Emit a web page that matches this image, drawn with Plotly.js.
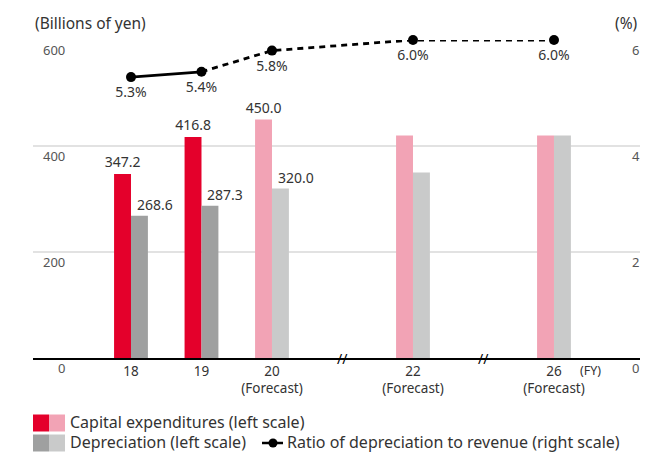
<!DOCTYPE html>
<html>
<head>
<meta charset="utf-8">
<script src="https://cdn.plot.ly/plotly-3.0.1.min.js"></script>
<style>html,body{margin:0;padding:0;background:#fff;}#chart{width:669px;height:453px;}</style>
</head>
<body>
<div id="chart"></div>
<script>
// ---- data ----
const slots = ['18', '19', '20', 'gapA', '22', 'gapB', '26'];
const years = ['18', '19', '20', '22', '26'];
const tickText = ['18', '19', '20<br>(Forecast)', '22<br>(Forecast)', '26<br>(Forecast)'];
const isForecast = [false, false, true, true, true];
const capex = [347.2, 416.8, 450.0, 420, 420];
const capexLabels = ['347.2', '416.8', '450.0', '', ''];
const depreciation = [268.6, 287.3, 320.0, 350, 420];
const depLabels = ['268.6', '287.3', '320.0', '', ''];
const ratio = [5.3, 5.4, 5.8, 6.0, 6.0];
const ratioLabels = ['5.3%', '5.4%', '5.8%', '6.0%', '6.0%'];
const breaks = ['gapA', 'gapB'];
const leftTicks = [0, 200, 400, 600];
const rightTicks = [0, 2, 4, 6];

// ---- styling ----
const RED = '#e4002b', PINK = '#f2a3b5', DGRAY = '#9fa0a0', LGRAY = '#c9caca';
const TXT = '#333333';
const FONT = 'Noto Sans, sans-serif';

const capexColors = isForecast.map(f => f ? PINK : RED);
const depColors = isForecast.map(f => f ? LGRAY : DGRAY);

const traces = [
  {type: 'bar', x: years, y: capex, marker: {color: capexColors}, text: capexLabels,
   textposition: 'outside', constraintext: 'none', textfont: {size: 14, color: TXT, family: FONT}, cliponaxis: false,
   hoverinfo: 'skip', showlegend: false},
  {type: 'bar', x: years, y: depreciation, marker: {color: depColors},
   cliponaxis: false, hoverinfo: 'skip', showlegend: false},
  {type: 'scatter', mode: 'lines', x: years.slice(0, 2), y: ratio.slice(0, 2), yaxis: 'y2',
   line: {color: '#000', width: 2.8}, cliponaxis: false, showlegend: false, hoverinfo: 'skip'},
  {type: 'scatter', mode: 'lines', x: years.slice(1), y: ratio.slice(1), yaxis: 'y2',
   line: {color: '#000', width: 2.8, dash: '6px,5px'}, cliponaxis: false, showlegend: false, hoverinfo: 'skip'},
  {type: 'scatter', mode: 'markers', x: years, y: ratio, yaxis: 'y2',
   marker: {color: '#000', size: 10}, cliponaxis: false, showlegend: false, hoverinfo: 'skip'},
  {type: 'scatter', mode: 'markers+text', x: years, y: ratio, yaxis: 'y2',
   marker: {color: 'rgba(0,0,0,0)', size: 14}, text: ratioLabels, textposition: 'bottom center',
   textfont: {size: 14, color: TXT, family: FONT}, cliponaxis: false, showlegend: false, hoverinfo: 'skip'}
];

const annotations = [];
// depreciation value labels (sit to the right of the bar top in the reference)
years.forEach((yr, i) => {
  if (depLabels[i]) annotations.push({xref: 'x', yref: 'y', x: slots.indexOf(yr), y: depreciation[i], text: depLabels[i],
    showarrow: false, xanchor: 'center', yanchor: 'middle', xshift: 24, yshift: 11,
    font: {size: 14, color: TXT, family: FONT}});
});
leftTicks.forEach(v => annotations.push({xref: 'paper', yref: 'y', x: 0.056, y: v, text: String(v),
  showarrow: false, xanchor: 'right', yanchor: 'middle', yshift: -10, font: {size: 13, color: '#555', family: FONT}}));
rightTicks.forEach(v => annotations.push({xref: 'paper', yref: 'y2', x: 0.983, y: v, text: String(v),
  showarrow: false, xanchor: 'left', yanchor: 'middle', yshift: -10, font: {size: 13, color: '#555', family: FONT}}));
breaks.forEach(b => annotations.push({xref: 'x', yref: 'y', x: slots.indexOf(b), y: 0, text: '//', showarrow: false,
  xanchor: 'center', yanchor: 'middle', font: {size: 14, color: '#000', family: FONT}}));
annotations.push({xref: 'paper', yref: 'paper', x: 0, y: 1, text: '(Billions of yen)', showarrow: false,
  xanchor: 'left', yanchor: 'middle', yshift: 17, font: {size: 15.5, color: TXT, family: FONT}});
annotations.push({xref: 'paper', yref: 'paper', x: 1, y: 1, text: '(%)', showarrow: false,
  xanchor: 'right', yanchor: 'middle', yshift: 17, font: {size: 15.5, color: TXT, family: FONT}});
annotations.push({xref: 'x', yref: 'paper', x: slots.indexOf('26') + 0.52, y: 0, text: '(FY)', showarrow: false,
  xanchor: 'center', yanchor: 'middle', yshift: -12, font: {size: 12.5, color: TXT, family: FONT}});

// legend (manual, two-tone swatches)
const legendItems = [
  {c1: RED, c2: PINK, label: 'Capital expenditures (left scale)', row: 0},
  {c1: DGRAY, c2: LGRAY, label: 'Depreciation (left scale)', row: 1}
];
const shapes = [];
const W = 669, H = 453, ML = 33, MR = 29, MT = 40, MB = 95;
const pw = W - ML - MR, ph = H - MT - MB;
const px = x => (x - ML) / pw;
const py = y => (H - MB - y) / ph;
legendItems.forEach(it => {
  const yc = 423 + it.row * 20;
  shapes.push({type: 'rect', xref: 'paper', yref: 'paper', x0: px(33), x1: px(49), y0: py(yc - 8.5), y1: py(yc + 8.5), fillcolor: it.c1, line: {width: 0}});
  shapes.push({type: 'rect', xref: 'paper', yref: 'paper', x0: px(49), x1: px(65), y0: py(yc - 8.5), y1: py(yc + 8.5), fillcolor: it.c2, line: {width: 0}});
  annotations.push({xref: 'paper', yref: 'paper', x: px(68), y: py(yc - 0.5), text: it.label, showarrow: false,
    xanchor: 'left', yanchor: 'middle', font: {size: 16, color: TXT, family: FONT}});
});
shapes.push({type: 'line', xref: 'paper', yref: 'paper', x0: px(262), x1: px(283), y0: py(443), y1: py(443), line: {color: '#000', width: 2.5}});
shapes.push({type: 'circle', xref: 'paper', yref: 'paper', x0: px(268.5), x1: px(277.5), y0: py(447.5), y1: py(438.5), fillcolor: '#000', line: {width: 0}});
annotations.push({xref: 'paper', yref: 'paper', x: px(285), y: py(442.5), text: 'Ratio of depreciation to revenue (right scale)', showarrow: false,
  xanchor: 'left', yanchor: 'middle', font: {size: 16, color: TXT, family: FONT}});

const layout = {
  width: W, height: H,
  margin: {l: ML, r: MR, t: MT, b: MB, pad: 0},
  paper_bgcolor: '#fff', plot_bgcolor: '#fff',
  font: {family: FONT, color: TXT},
  barmode: 'group', bargap: 0.52, bargroupgap: 0,
  showlegend: false,
  xaxis: {type: 'category', categoryorder: 'array', categoryarray: slots, range: [-1.39, 7.22],
    tickmode: 'array', tickvals: years, ticktext: tickText, ticks: '', showgrid: false, zeroline: false,
    showline: true, linecolor: '#000', linewidth: 1.5, tickfont: {size: 13.5, color: TXT, family: FONT}, fixedrange: true},
  yaxis: {range: [0, 600], showticklabels: false, showgrid: true, gridcolor: '#e2e2e2', gridwidth: 1.5,
    tickvals: leftTicks, zeroline: false, ticks: '', fixedrange: true},
  yaxis2: {range: [0, 6], overlaying: 'y', side: 'right', showticklabels: false, showgrid: false,
    zeroline: false, ticks: '', fixedrange: true},
  annotations: annotations,
  shapes: shapes
};

Plotly.newPlot('chart', traces, layout, {displayModeBar: false, staticPlot: true});
</script>
</body>
</html>
